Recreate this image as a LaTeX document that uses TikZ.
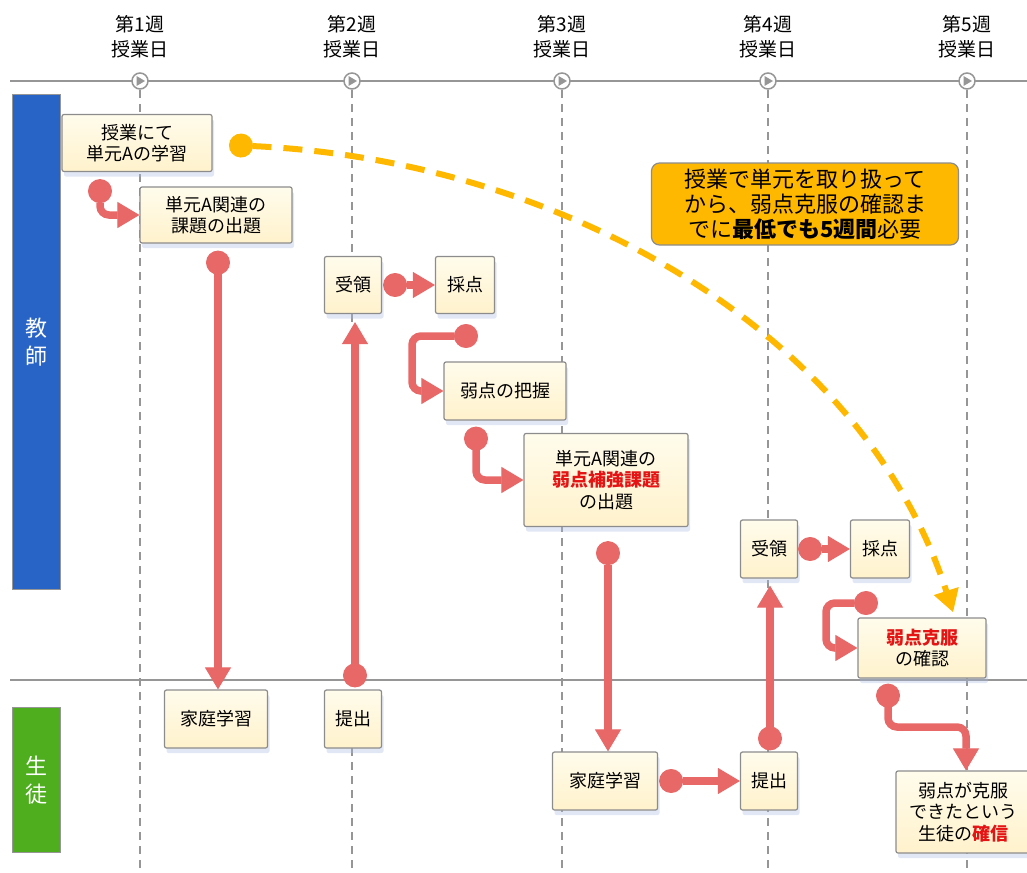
\documentclass[tikz,border=0pt]{standalone}
\usepackage{fontspec}
\setmainfont{Noto Sans CJK JP}
\usetikzlibrary{arrows.meta,shadows,calc}
\definecolor{creamA}{RGB}{255,252,236}
\definecolor{creamB}{RGB}{255,242,204}
\definecolor{boxline}{RGB}{140,140,140}
\definecolor{gridgray}{RGB}{150,150,150}
\definecolor{redc}{RGB}{232,104,104}
\definecolor{redtxt}{RGB}{228,20,20}
\definecolor{orangec}{RGB}{255,184,0}
\definecolor{blueb}{RGB}{40,100,198}
\definecolor{greenb}{RGB}{78,174,30}
\definecolor{shadowc}{RGB}{170,185,225}
\tikzset{
  box/.style={draw=boxline, line width=1.2pt, rounded corners=2pt,
    top color=creamA, bottom color=creamB, inner sep=0pt, align=center,
    font=\fontsize{18pt}{21.5pt}\selectfont,
    drop shadow={shadow xshift=2pt, shadow yshift=-5pt, fill=shadowc, opacity=0.35}},
  hdr/.style={align=center, inner sep=0pt, font=\fontsize{19pt}{25pt}\selectfont},
  marker/.style={circle, draw=gridgray, fill=white, line width=1.5pt, minimum size=16pt, inner sep=0pt},
  vline/.style={draw=gridgray, line width=2pt, dash pattern=on 8pt off 6pt},
  hline/.style={draw=gridgray, line width=2pt},
  lane/.style={inner sep=0pt, minimum width=48pt, draw=gridgray, line width=1pt,
    text=white, align=center, font=\fontsize{22pt}{28pt}\selectfont},
  conn/.style={draw=redc, line width=7.5pt, rounded corners=9pt,
    {Circle[length=24pt,line width=1pt]}-{Triangle[length=22pt,width=26pt,line width=1pt]}},
  oconn/.style={draw=orangec, line width=6pt, dash pattern=on 19pt off 12pt,
    {Circle[length=24pt,line width=1pt]}-{Triangle[length=22pt,width=26pt,line width=1pt]}},
  callout/.style={draw=boxline, line width=1.2pt, rounded corners=8pt, fill=orangec,
    inner sep=0pt, align=center, font=\fontsize{22pt}{25pt}\selectfont}
}
\newcommand{\rb}[1]{\textcolor{redtxt}{\textbf{#1}}}
\begin{document}
\begin{tikzpicture}[x=1pt,y=-1pt]
\useasboundingbox (0,0) rectangle (1027,872);
% horizontal lines
\draw[hline] (10,81) -- (1027,81);
\draw[hline] (10,680) -- (1027,680);
% column markers and headers
\foreach \i/\x in {1/140,2/352,3/562,4/768,5/967}{
  \node[hdr] (h\i) at (\x,37) {第\i 週\\授業日};
  \draw[vline] (\x,90) -- (\x,872);
  \node[marker] (m\i) at (\x,81) {};
  \fill[gridgray] (\x-3.5,76) -- (\x+5,81) -- (\x-3.5,86) -- cycle;
}
% lanes
\node[lane, fill=blueb, minimum height=495pt] (teacher) at (36,342) {教\\師};
\node[lane, fill=greenb, minimum height=145pt] (student) at (36,780) {生\\徒};
% orange dashed curve (behind nodes)
\coordinate (o0) at (229,145);
\coordinate (o1) at (953,612);
\draw[oconn] (o0) .. controls (560,160) and (862,330) .. (o1);
% nodes
\node[box, minimum width=150pt, minimum height=57pt] (n1) at (137,143) {授業にて\\単元Aの学習};
\node[box, minimum width=152pt, minimum height=56pt] (n2) at (216,215) {単元A関連の\\課題の出題};
\node[box, minimum width=57pt, minimum height=57pt] (n3) at (353,285) {受領};
\node[box, minimum width=59pt, minimum height=57pt] (n4) at (465,285) {採点};
\node[box, minimum width=122pt, minimum height=58pt] (n5) at (505,391) {弱点の把握};
\node[box, minimum width=164pt, minimum height=93pt] (n6) at (606,480) {単元A関連の\\\rb{弱点補強課題}\\の出題};
\node[box, minimum width=57pt, minimum height=58pt] (n7) at (769,549) {受領};
\node[box, minimum width=59pt, minimum height=58pt] (n8) at (880,549) {採点};
\node[box, minimum width=128pt, minimum height=60pt] (n9) at (922,648) {\rb{弱点克服}\\の確認};
\node[box, minimum width=103pt, minimum height=58pt] (n10) at (216,719) {家庭学習};
\node[box, minimum width=57pt, minimum height=58pt] (n11) at (353,719) {提出};
\node[box, minimum width=105pt, minimum height=58pt] (n12) at (605,781) {家庭学習};
\node[box, minimum width=57pt, minimum height=58pt] (n13) at (769,781) {提出};
\node[box, minimum width=134pt, minimum height=82pt] (n14) at (963,812) {弱点が克服\\できたという\\生徒の\rb{確信}};
% callout
\node[callout, minimum width=307pt, minimum height=82pt] (note) at (805,204)
  {授業で単元を取り扱って\\から、弱点克服の確認ま\\でに\textbf{最低でも5週間}必要};
% red connectors
\draw[conn, shorten <=7pt] (n1.south -| 100,0) |- (n2.west);
\draw[conn, shorten <=7pt] (n2.south -| 218,0) -- (n10.north -| 218,0);
\draw[conn, shorten <=2pt, shorten >=8pt] (n11.north -| 355,0) -- (n3.south -| 355,0);
\draw[conn, shorten <=1pt] (n3.east) -- (n4.west);
\coordinate (e0) at (478,336);
\draw[conn] (e0) -- (412,336) |- (n5.west);
\draw[conn, shorten <=6pt] (n5.south -| 476,0) |- (n6.west);
\draw[conn, shorten <=14pt] (n6.south -| 608,0) -- (n12.north -| 608,0);
\draw[conn, shorten <=1pt] (n12.east) -- (n13.west);
\draw[conn, shorten <=1pt, shorten >=7pt] (n13.north -| 770,0) -- (n7.south -| 770,0);
\draw[conn] (n7.east) -- (n8.west);
\coordinate (k0) at (878,603);
\draw[conn] (k0) -- (826,603) |- (n9.west);
\draw[conn, shorten <=5pt] (n9.south -| 888,0) -- (888,727) -| (n14.north -| 966,0);
\end{tikzpicture}
\end{document}
